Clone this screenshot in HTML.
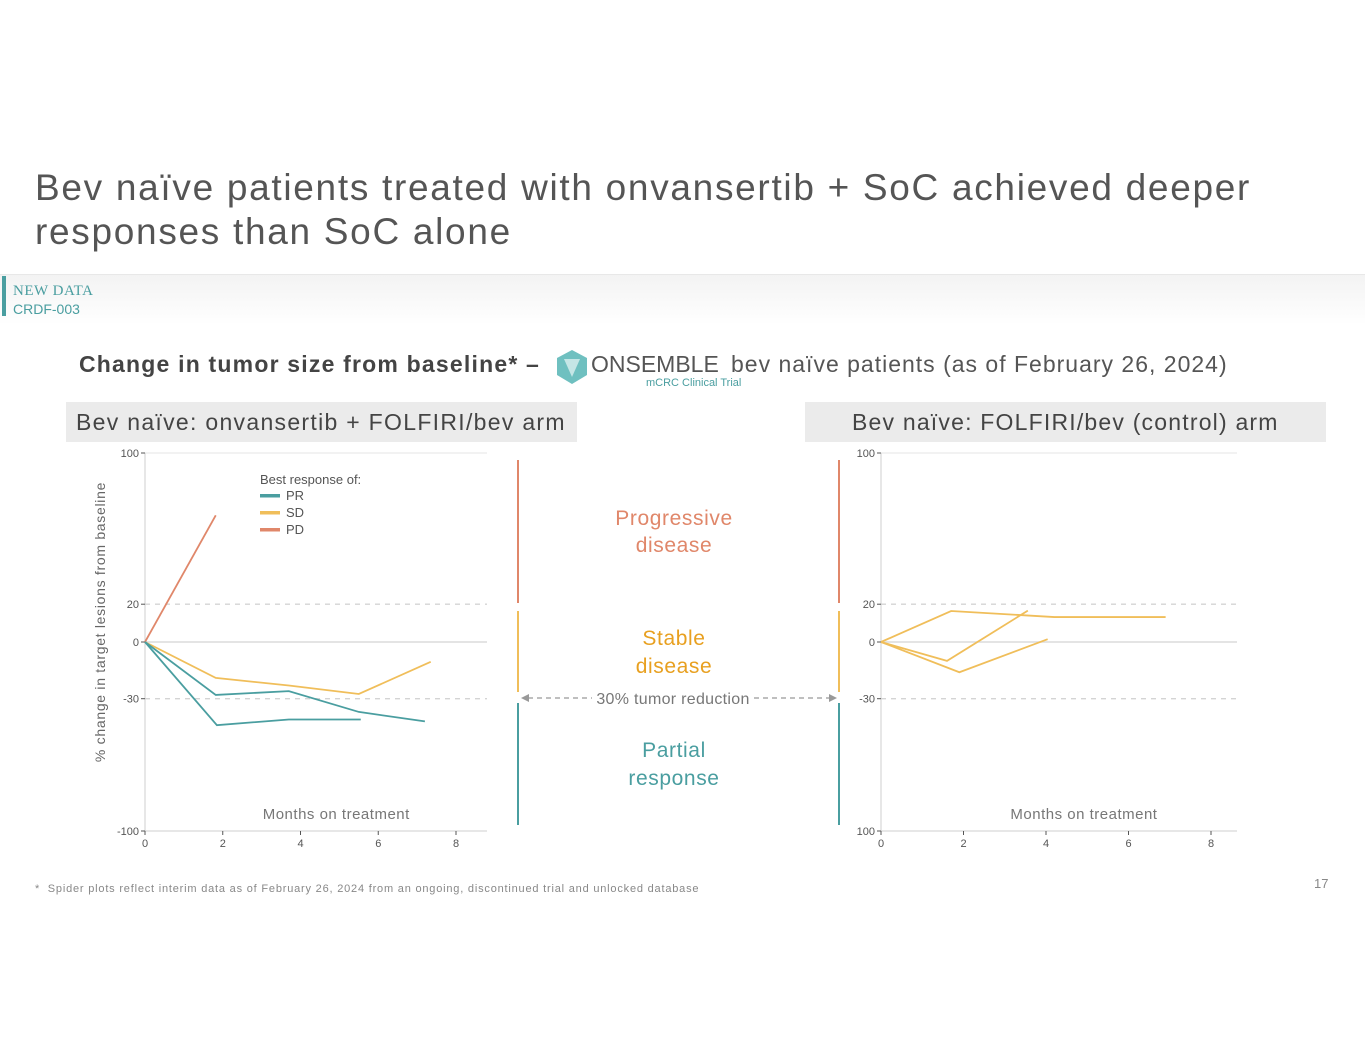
<!DOCTYPE html>
<html><head><meta charset="utf-8"><style>
body{margin:0;background:#fff;font-family:"Liberation Sans",sans-serif;}
#root{position:relative;width:1365px;height:1055px;overflow:hidden;background:#fff;}
.abs{position:absolute;white-space:nowrap;}
</style></head><body>
<div id="root">
<div class="abs" style="left:35px;top:166px;font-size:37px;line-height:44px;color:#555;letter-spacing:1.7px;">Bev naïve patients treated with onvansertib + SoC achieved deeper<br>responses than SoC alone</div>
<div class="abs" style="left:0;top:274px;width:1365px;height:50px;background:linear-gradient(#f3f3f3,#fff);border-top:1px solid #e8e8e8;"></div>
<div class="abs" style="left:2px;top:276px;width:4px;height:40px;background:#4a9ea0;"></div>
<div class="abs" style="left:13px;top:283px;font-family:'Liberation Serif',serif;font-size:15px;color:#4a9ea0;letter-spacing:0.5px;">NEW DATA</div>
<div class="abs" style="left:13px;top:301px;font-size:14px;color:#4a9ea0;">CRDF-003</div>
<div class="abs" style="left:79px;top:351px;font-size:23px;font-weight:bold;color:#444;letter-spacing:1.2px;">Change in tumor size from baseline* –</div>
<svg class="abs" style="left:554px;top:349px" width="36" height="36"><polygon points="18,1 33,9 33,26 18,35 3,26 3,9" fill="#6fc0c0"/><polygon points="10,10 26,10 18,28" fill="#fff" opacity="0.6"/></svg>
<div class="abs" style="left:591px;top:351px;font-size:23px;color:#555;">ONSEMBLE</div>
<div class="abs" style="left:646px;top:377px;font-size:11px;color:#4a9ea0;">mCRC Clinical Trial</div>
<div class="abs" style="left:731px;top:351px;font-size:23px;color:#555;letter-spacing:1px;">bev naïve patients (as of February 26, 2024)</div>
<div class="abs" style="left:66px;top:402px;width:511px;height:40px;background:#ebebeb;font-size:23px;color:#444;line-height:40px;text-indent:10px;letter-spacing:1.3px;">Bev naïve: onvansertib + FOLFIRI/bev arm</div>
<div class="abs" style="left:805px;top:402px;width:521px;height:40px;background:#ebebeb;font-size:23px;color:#444;line-height:40px;text-indent:47px;letter-spacing:1.2px;">Bev naïve: FOLFIRI/bev (control) arm</div>
<svg id="chart" class="abs" style="left:0;top:0" width="1365" height="1055"></svg>
<div class="abs" style="left:35px;top:883px;font-size:11px;color:#888;letter-spacing:0.8px;">*&nbsp; Spider plots reflect interim data as of February 26, 2024 from an ongoing, discontinued trial and unlocked database</div>
<div class="abs" style="left:1314px;top:876px;font-size:13px;color:#888;">17</div>
</div>
<script>
const xTicks=[0,2,4,6,8];
const yTicks=[100,20,0,-30,-100];
const leftYLabels=["100","20","0","-30","-100"];
const rightYLabels=["100","20","0","-30","100"];
const leftPD=[[0,0],[1.82,67]];
const leftPR1=[[0,0],[1.82,-28],[3.7,-26],[5.5,-37],[7.2,-42]];
const leftPR2=[[0,0],[1.85,-44],[3.7,-41],[5.55,-41]];
const leftSD=[[0,0],[1.82,-19],[3.7,-23],[5.5,-27.5],[7.35,-10.5]];
const rightSD1=[[0,0],[1.7,16.4],[4.2,13.2],[6.9,13.2]];
const rightSD2=[[0,0],[1.6,-10],[3.56,16.6]];
const rightSD3=[[0,0],[1.9,-16],[4.04,1.5]];
const C={PR:"#4a9ea0",SD:"#f0be5a",PD:"#e0876a"};
const NS="http://www.w3.org/2000/svg";
const svg=document.getElementById('chart');
function el(t,a,p){const e=document.createElementNS(NS,t);for(const k in a)e.setAttribute(k,a[k]);(p||svg).appendChild(e);return e;}
function panel(name,x0,x8,xEnd,yLabels,series){
  const g=el('g',{});
  
  
  const sx=v=>x0+(x8-x0)*v/8;
  const sy=v=>642-1.89*v;
  el('line',{x1:x0,y1:sy(100),x2:xEnd,y2:sy(100),stroke:'#e6e6e6'},g);
  [20,-30].forEach(v=>{const l=el('line',{x1:x0,y1:sy(v),x2:xEnd,y2:sy(v),stroke:'#d4d4d4','stroke-dasharray':'5,5','stroke-width':1.3},g);});
  el('line',{x1:x0,y1:sy(0),x2:xEnd,y2:sy(0),stroke:'#dcdcdc','stroke-width':1.5},g);
  el('line',{x1:x0,y1:sy(100),x2:x0,y2:sy(-100),stroke:'#cfcfcf'},g);
  el('line',{x1:x0,y1:sy(-100),x2:xEnd,y2:sy(-100),stroke:'#cfcfcf'},g);
  yTicks.forEach((v,i)=>{el('line',{x1:x0-4,y1:sy(v),x2:x0,y2:sy(v),stroke:'#555'},g);
    const t=el('text',{x:x0-6,y:sy(v)+4,'text-anchor':'end','font-size':11,fill:'#555','font-family':'Liberation Sans'},g);t.textContent=yLabels[i];
    });
  xTicks.forEach(v=>{el('line',{x1:sx(v),y1:sy(-100),x2:sx(v),y2:sy(-100)+4,stroke:'#555'},g);
    const t=el('text',{x:sx(v),y:sy(-100)+16,'text-anchor':'middle','font-size':11,fill:'#555','font-family':'Liberation Sans'},g);t.textContent=v;
    });
  const xt=el('text',{x:x0+(x8-x0)*0.615,y:819,'text-anchor':'middle','font-size':15,fill:'#777','font-family':'Liberation Sans','letter-spacing':0.5},g);xt.textContent='Months on treatment';
  
  series.forEach(s=>{const p=el('polyline',{points:s.d.map(q=>sx(q[0])+','+sy(q[1])).join(' '),fill:'none',stroke:C[s.c],'stroke-width':1.8},g);
    });
  return {sx,sy};
}
panel('left-spider-plot',145,456,487,leftYLabels,[{d:leftPD,c:'PD'},{d:leftSD,c:'SD'},{d:leftPR1,c:'PR'},{d:leftPR2,c:'PR'}]);
panel('right-spider-plot',881,1211,1237,rightYLabels,[{d:rightSD1,c:'SD'},{d:rightSD2,c:'SD'},{d:rightSD3,c:'SD'}]);
const yt=el('text',{x:0,y:0,transform:'translate(105,622) rotate(-90)','text-anchor':'middle','font-size':14,fill:'#666','font-family':'Liberation Sans','letter-spacing':0.7});yt.textContent='% change in target lesions from baseline';

const lt=el('text',{x:260,y:484,'font-size':13,fill:'#555','font-family':'Liberation Sans'});lt.textContent='Best response of:';

[['PR',500],['SD',517],['PD',534]].forEach(([k,y])=>{const r=el('rect',{x:260,y:y-6,width:20,height:3.5,fill:C[k]});
  const t=el('text',{x:286,y:y,'font-size':13,fill:'#555','font-family':'Liberation Sans'});t.textContent=k;});
[518,839].forEach(x=>{[[460,603,C.PD],[611,692,C.SD],[703,825,C.PR]].forEach(([a,b,c])=>{const l=el('line',{x1:x,y1:a,x2:x,y2:b,stroke:c,'stroke-width':2});});});
function lbl(txt,y,c,n){const t=el('text',{x:674,y:y,'text-anchor':'middle','font-size':21,fill:c,'font-family':'Liberation Sans','letter-spacing':0.6});t.textContent=txt;}
lbl('Progressive',525,'#e0876a','pd-label');lbl('disease',552,'#e0876a','pd-label');
lbl('Stable',645,'#e8a020','sd-label');lbl('disease',673,'#e8a020','sd-label');
lbl('Partial',757,'#4a9ea0','pr-label');lbl('response',785,'#4a9ea0','pr-label');
const ar=el('g',{});
el('line',{x1:528,y1:698,x2:592,y2:698,stroke:'#999','stroke-dasharray':'5,4','stroke-width':1.3},ar);
el('line',{x1:754,y1:698,x2:830,y2:698,stroke:'#999','stroke-dasharray':'5,4','stroke-width':1.3},ar);
el('polygon',{points:'521,698 529,694 529,702',fill:'#999'},ar);
el('polygon',{points:'837,698 829,694 829,702',fill:'#999'},ar);
const at=el('text',{x:673,y:704,'text-anchor':'middle','font-size':16,fill:'#777','font-family':'Liberation Sans','letter-spacing':0.3},ar);at.textContent='30% tumor reduction';
</script>
</body></html>
